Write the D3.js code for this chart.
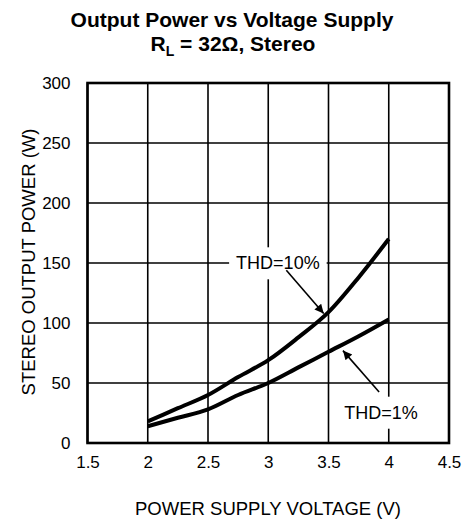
<!DOCTYPE html>
<html>
<head>
<meta charset="utf-8">
<script src="https://cdn.jsdelivr.net/npm/d3@7"></script>
<style>
  body { margin: 0; background: #fff; }
  text { font-family: "Liberation Sans", Arial, Helvetica, sans-serif; fill: #000; }
</style>
</head>
<body>
<div class="chart"></div>
<script>
// values
let voltage = [2, 2.25, 2.5, 2.75, 3, 3.25, 3.5, 3.75, 4];
let thd10 = [18, 29, 40, 55, 69, 88, 109, 138, 170];
let thd1 = [14, 21, 28, 40, 50, 63, 76, 89, 103];

let xTicks = [1.5, 2, 2.5, 3, 3.5, 4, 4.5];
let yTicks = [0, 50, 100, 150, 200, 250, 300];

// annotation: label position, arrow tail, arrow tip (data units)
let notes = [
  { text: "THD=10%", at: [3.08, 150], from: [3.15, 144], to: [3.46, 108] },
  { text: "THD=1%", at: [3.935, 25.5], from: [3.92, 42.5], to: [3.62, 77] }
];

let width = 465;
let height = 520;

let svg = d3.select(".chart")
  .append("svg")
  .attr("width", width)
  .attr("height", height);

let x = d3.scaleLinear().domain([1.5, 4.5]).range([87.5, 449]);
let y = d3.scaleLinear().domain([0, 300]).range([443, 83]);

svg.append("defs").append("marker")
  .attr("id", "arrow")
  .attr("viewBox", "0 0 10 10")
  .attr("refX", 10)
  .attr("refY", 5)
  .attr("markerWidth", 11)
  .attr("markerHeight", 9)
  .attr("markerUnits", "userSpaceOnUse")
  .attr("orient", "auto")
  .append("path")
  .attr("d", "M0,0 L10,5 L0,10 Z")
  .attr("fill", "#000");

// titles
svg.append("text")
  .attr("x", 232)
  .attr("y", 27)
  .attr("text-anchor", "middle")
  .attr("font-size", 21)
  .attr("font-weight", "bold")
  .text("Output Power vs Voltage Supply");

let sub = svg.append("text")
  .attr("x", 233)
  .attr("y", 51)
  .attr("text-anchor", "middle")
  .attr("font-size", 21)
  .attr("font-weight", "bold");
sub.append("tspan").text("R");
sub.append("tspan").attr("dy", 5).attr("font-size", 14).text("L");
sub.append("tspan").attr("dy", -5).text(" = 32\u03A9, Stereo");

// grid
let grid = svg.append("g");

grid.selectAll(".vgrid")
  .data(xTicks)
  .enter().append("line")
  .attr("class", "vgrid")
  .attr("x1", d => x(d))
  .attr("x2", d => x(d))
  .attr("y1", y(0))
  .attr("y2", y(300))
  .attr("stroke", "#000")
  .attr("stroke-width", 1.6);

grid.selectAll(".hgrid")
  .data(yTicks)
  .enter().append("line")
  .attr("class", "hgrid")
  .attr("x1", x(1.5))
  .attr("x2", x(4.5))
  .attr("y1", d => y(d))
  .attr("y2", d => y(d))
  .attr("stroke", "#000")
  .attr("stroke-width", 1.6);

// tick labels
let xAxis = d3.axisBottom(x).tickValues(xTicks).tickSize(0).tickPadding(13)
  .tickFormat(d3.format("~g"));
let yAxis = d3.axisLeft(y).tickValues(yTicks).tickSize(0).tickPadding(17)
  .tickFormat(d3.format("d"));

svg.append("g")
  .attr("transform", "translate(0," + y(0) + ")")
  .call(xAxis)
  .call(g => g.select(".domain").remove())
  .selectAll("text")
  .attr("font-size", 17)
  .attr("font-family", null);

svg.append("g")
  .attr("transform", "translate(" + x(1.5) + ",0)")
  .call(yAxis)
  .call(g => g.select(".domain").remove())
  .selectAll("text")
  .attr("font-size", 17)
  .attr("font-family", null);

// axis titles
svg.append("text")
  .attr("x", 268)
  .attr("y", 515)
  .attr("text-anchor", "middle")
  .attr("font-size", 18.5)
  .text("POWER SUPPLY VOLTAGE (V)");

svg.append("text")
  .attr("transform", "translate(35,262) rotate(-90)")
  .attr("text-anchor", "middle")
  .attr("font-size", 18.5)
  .text("STEREO OUTPUT POWER (W)");

// annotation labels with white box knocking out the grid
notes.forEach(function(n) {
  let g = svg.append("g");
  let rect = g.append("rect").attr("fill", "#fff");
  let t = g.append("text")
    .attr("x", x(n.at[0]))
    .attr("y", y(n.at[1]))
    .attr("dy", "0.35em")
    .attr("text-anchor", "middle")
    .attr("font-size", 18)
    .text(n.text);
  let b = t.node().getBBox();
  rect.attr("x", b.x - 7)
    .attr("y", b.y - 6)
    .attr("width", b.width + 14)
    .attr("height", b.height + 12);
});

// border
svg.append("rect")
  .attr("x", x(1.5))
  .attr("y", y(300))
  .attr("width", x(4.5) - x(1.5))
  .attr("height", y(0) - y(300))
  .attr("fill", "none")
  .attr("stroke", "#000")
  .attr("stroke-width", 2.6);

// curves
let line = d3.line()
  .x((d, i) => x(voltage[i]))
  .y(d => y(d))
  .curve(d3.curveMonotoneX);

[thd10, thd1].forEach(function(s) {
  svg.append("path")
    .datum(s)
    .attr("d", line)
    .attr("fill", "none")
    .attr("stroke", "#000")
    .attr("stroke-width", 4);
});

// arrows
svg.selectAll(".arrow")
  .data(notes)
  .enter().append("line")
  .attr("class", "arrow")
  .attr("x1", d => x(d.from[0]))
  .attr("y1", d => y(d.from[1]))
  .attr("x2", d => x(d.to[0]))
  .attr("y2", d => y(d.to[1]))
  .attr("stroke", "#000")
  .attr("stroke-width", 1.6)
  .attr("marker-end", "url(#arrow)");
</script>
</body>
</html>
